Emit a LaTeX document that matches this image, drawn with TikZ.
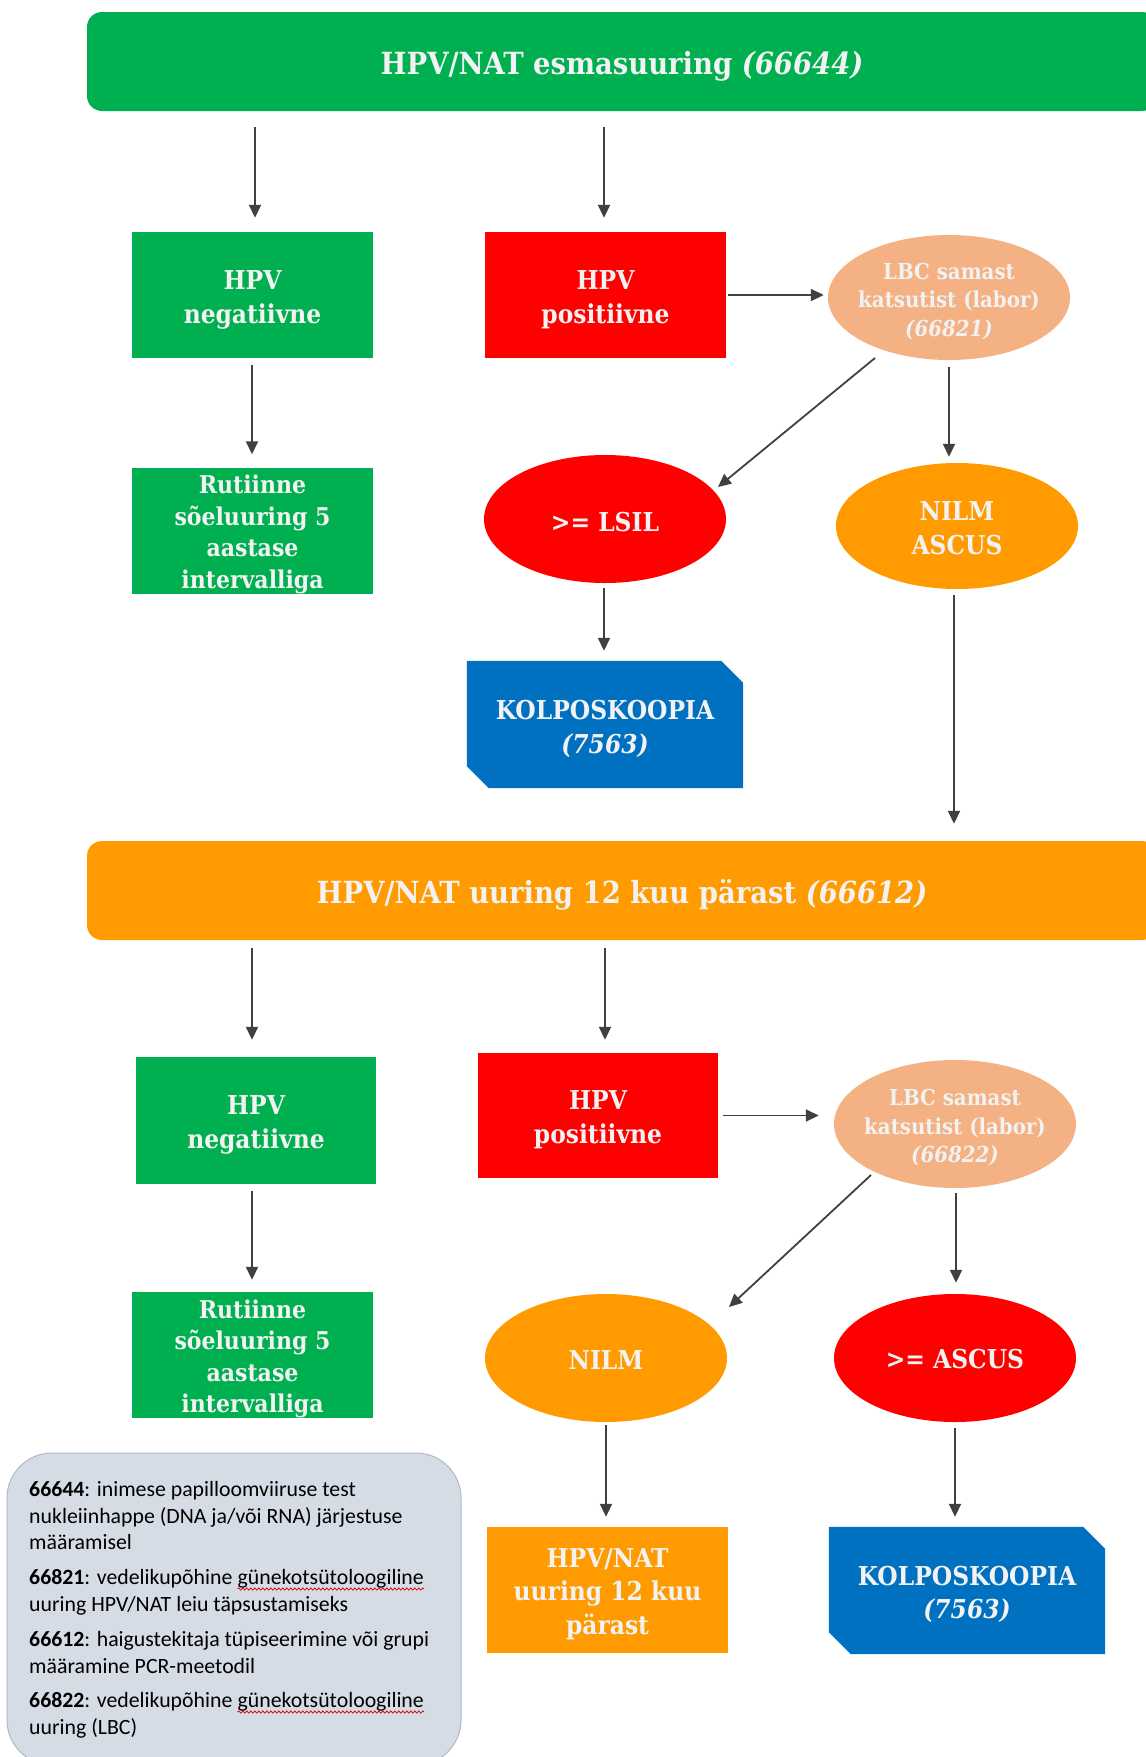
\documentclass[tikz,border=0pt]{standalone}
\usepackage{fontspec}
\setmainfont{DejaVu Serif Condensed}
\newfontfamily\legfont{Carlito}
\usetikzlibrary{arrows.meta,shapes.geometric,decorations.pathmorphing}
\definecolor{cgreen}{HTML}{00B050}
\definecolor{cred}{HTML}{FF0000}
\definecolor{corange}{HTML}{FF9B00}
\definecolor{cpeach}{HTML}{F4B183}
\definecolor{cblue}{HTML}{0070C0}
\definecolor{ctext}{HTML}{F2F2F2}
\definecolor{carrow}{HTML}{404040}
\definecolor{clegfill}{HTML}{D6DCE5}
\definecolor{clegdraw}{HTML}{ADB9CA}
\pgfdeclarelayer{bg}
\pgfsetlayers{bg,main}
\newcommand\boxfnt{\fontsize{26}{33.6}\selectfont\bfseries}
\newcommand\rutfnt{\fontsize{24.5}{31.5}\selectfont\bfseries}
\newcommand\lbcfnt{\fontsize{22}{28.5}\selectfont\bfseries}
\newcommand\barfnt{\fontsize{30.5}{36}\selectfont\bfseries}
\newcommand\legfnt{\legfont\fontsize{21.8}{26.7}\selectfont}
% lower the visible text a little, keeping the reported size
\newcommand\lowtxt[2][4.5pt]{\raisebox{-#1}[\height][\depth]{\begin{tabular}{@{}c@{}}#2\end{tabular}}}
\begin{document}
\begin{tikzpicture}[x=1pt,y=-1pt,
  bar/.style={rectangle, rounded corners=15pt, minimum width=1070pt, minimum height=99pt, inner sep=0pt, text=ctext, font=\barfnt},
  rbox/.style={rectangle, minimum width=241pt, minimum height=126pt, inner sep=0pt, text=ctext, font=\boxfnt},
  ell/.style={ellipse, minimum width=242pt, minimum height=128pt, inner sep=0pt, text=ctext, font=\boxfnt},
  lbcell/.style={ell, fill=cpeach, font=\lbcfnt, inner xsep=-8pt, inner ysep=-4pt},
  kbox/.style={rectangle, minimum width=276pt, minimum height=127pt, inner sep=0pt, text=ctext, font=\boxfnt},
  arr/.style={draw=carrow, line width=1.8pt, -{Triangle[length=13pt,width=12pt]}},
  legline/.style={anchor=base west, inner sep=0pt, font=\legfnt, text=black},
  wavy/.style={draw=red!85!black, line width=0.7pt, decorate, decoration={snake, amplitude=1.1pt, segment length=4pt}}
]
\useasboundingbox (0,0) rectangle (1146,1757);
\clip (0,0) rectangle (1146,1757);

% ---------- first stage ----------
\node[bar, fill=cgreen] (top) at (622,61.5) {\lowtxt[5.5pt]{HPV/NAT esmasuuring \textit{(66644)}}};

\node[rbox, fill=cgreen] (neg1) at (252.5,295) {\lowtxt{HPV\\negatiivne}};
\node[rbox, fill=cred] (pos1) at (605.5,295) {\lowtxt{HPV\\positiivne}};
\node[lbcell, minimum height=125pt] (lbc1) at (949,297.5) {\lowtxt{LBC samast\\katsutist (labor)\\\textit{(66821)}}};
\node[ell, fill=cred] (lsil) at (605,519) {\lowtxt[5.4pt]{>= LSIL}};
\node[ell, fill=corange, minimum height=126pt] (nilmascus) at (957,526) {\lowtxt[5pt]{NILM\\ASCUS}};
\node[rbox, fill=cgreen, font=\rutfnt] (rut1) at (252.5,530.5) {\lowtxt[4pt]{Rutiinne\\sõeluuring 5\\aastase\\intervalliga}};
\node[kbox] (kolpo1) at (605,724.5) {\lowtxt[5.2pt]{KOLPOSKOOPIA\\\textit{(7563)}}};

% ---------- second stage ----------
\node[bar, fill=corange] (bar2) at (622,890.5) {\lowtxt[6pt]{HPV/NAT uuring 12 kuu pärast \textit{(66612)}}};

\node[rbox, fill=cgreen, minimum width=240pt, minimum height=127pt] (neg2) at (256,1120.5) {\lowtxt{HPV\\negatiivne}};
\node[rbox, fill=cred, minimum width=240pt, minimum height=125pt] (pos2) at (598,1115.5) {\lowtxt{HPV\\positiivne}};
\node[lbcell] (lbc2) at (955,1124) {\lowtxt{LBC samast\\katsutist (labor)\\\textit{(66822)}}};
\node[rbox, fill=cgreen, font=\rutfnt] (rut2) at (252.5,1355) {\lowtxt[4pt]{Rutiinne\\sõeluuring 5\\aastase\\intervalliga}};
\node[ell, fill=corange] (nilm2) at (606,1358) {\lowtxt[4.4pt]{NILM}};
\node[ell, fill=cred] (ascus2) at (955,1358) {\lowtxt[3.6pt]{>= ASCUS}};
\node[rbox, fill=corange, font=\boxfnt] (hpv12) at (607.5,1590) {\lowtxt[4pt]{HPV/NAT\\uuring 12 kuu\\pärast}};
\node[kbox] (kolpo2) at (967,1590.5) {\lowtxt[4.6pt]{KOLPOSKOOPIA\\\textit{(7563)}}};

% chamfered blue boxes (background layer)
\begin{pgfonlayer}{bg}
\foreach \k in {kolpo1,kolpo2}{
  \fill[cblue] (\k.north west) -- ([xshift=-22pt]\k.north east) -- ([yshift=-22pt]\k.north east)
    -- (\k.south east) -- ([xshift=22pt]\k.south west) -- ([yshift=22pt]\k.south west) -- cycle;
}
\end{pgfonlayer}

% ---------- connectors ----------
\draw[arr, shorten <=16pt, shorten >=14pt] (top.south -| 255,0) -- (neg1.north -| 255,0);
\draw[arr, shorten <=16pt, shorten >=14pt] (top.south -| 604,0) -- (pos1.north -| 604,0);
\draw[arr, shorten <=2pt, shorten >=4pt] (pos1.east) -- (pos1.east -| lbc1.west);
\draw[arr] ([shift={(-74,60.5)}]lbc1.center) -- ([shift={(113,-32)}]lsil.center);
\draw[arr, shorten <=7pt, shorten >=6pt] (lbc1.south) -- (lbc1.south |- nilmascus.north);
\draw[arr, shorten <=5pt, shorten >=10pt] (lsil.south -| 604,0) -- (kolpo1.north -| 604,0);
\draw[arr, shorten <=7pt, shorten >=13pt] (neg1.south -| 252,0) -- (rut1.north -| 252,0);
\draw[arr, shorten <=6pt, shorten >=17pt] (nilmascus.south -| 954,0) -- (bar2.north -| 954,0);

\draw[arr, shorten <=8pt, shorten >=17pt] (bar2.south -| 252,0) -- (neg2.north -| 252,0);
\draw[arr, shorten <=8pt, shorten >=13pt] (bar2.south -| 605,0) -- (pos2.north -| 605,0);
\draw[arr, shorten <=5pt, shorten >=15pt] (pos2.east) -- (pos2.east -| lbc2.west);
\draw[arr] ([shift={(-84,51)}]lbc2.center) -- ([shift={(123,-51)}]nilm2.center);
\draw[arr, shorten <=5pt, shorten >=11pt] (lbc2.south -| 956,0) -- (ascus2.north -| 956,0);
\draw[arr, shorten <=7pt, shorten >=12pt] (neg2.south -| 252,0) -- (rut2.north -| 252,0);
\draw[arr, shorten <=3pt, shorten >=10pt] (nilm2.south) -- (hpv12.north -| nilm2.south);
\draw[arr, shorten <=6pt, shorten >=10pt] (ascus2.south) -- (kolpo2.north -| ascus2.south);

% ---------- legend ----------
\node[rectangle, rounded corners=45pt, fill=clegfill, draw=clegdraw, line width=1pt,
      minimum width=454pt, minimum height=312pt, inner sep=0pt] (leg) at (234,1609) {};
\node[legline] (l1) at (29,1496) {\textbf{66644}: inimese papilloomviiruse test};
\node[legline] (l2) at (29,1523) {nukleiinhappe (DNA ja/või RNA) järjestuse};
\node[legline] (l3) at (29,1549) {määramisel};
\node[legline] (l4) at (29,1584.5) {\textbf{66821}: vedelikupõhine};
\node[legline] (l4w) at ([xshift=4.9pt]l4.base east) {günekotsütoloogiline};
\node[legline] (l5) at (29,1611) {uuring HPV/NAT leiu täpsustamiseks};
\node[legline] (l6) at (29,1646) {\textbf{66612}: haigustekitaja tüpiseerimine või grupi};
\node[legline] (l7) at (29,1673) {määramine PCR-meetodil};
\node[legline] (l8) at (29,1707.5) {\textbf{66822}: vedelikupõhine};
\node[legline] (l8w) at ([xshift=4.9pt]l8.base east) {günekotsütoloogiline};
\node[legline] (l9) at (29,1734) {uuring (LBC)};
\draw[wavy] ([yshift=-4.5pt]l4w.base west) -- ([yshift=-4.5pt]l4w.base east);
\draw[wavy] ([yshift=-4.5pt]l8w.base west) -- ([yshift=-4.5pt]l8w.base east);
\end{tikzpicture}
\end{document}
